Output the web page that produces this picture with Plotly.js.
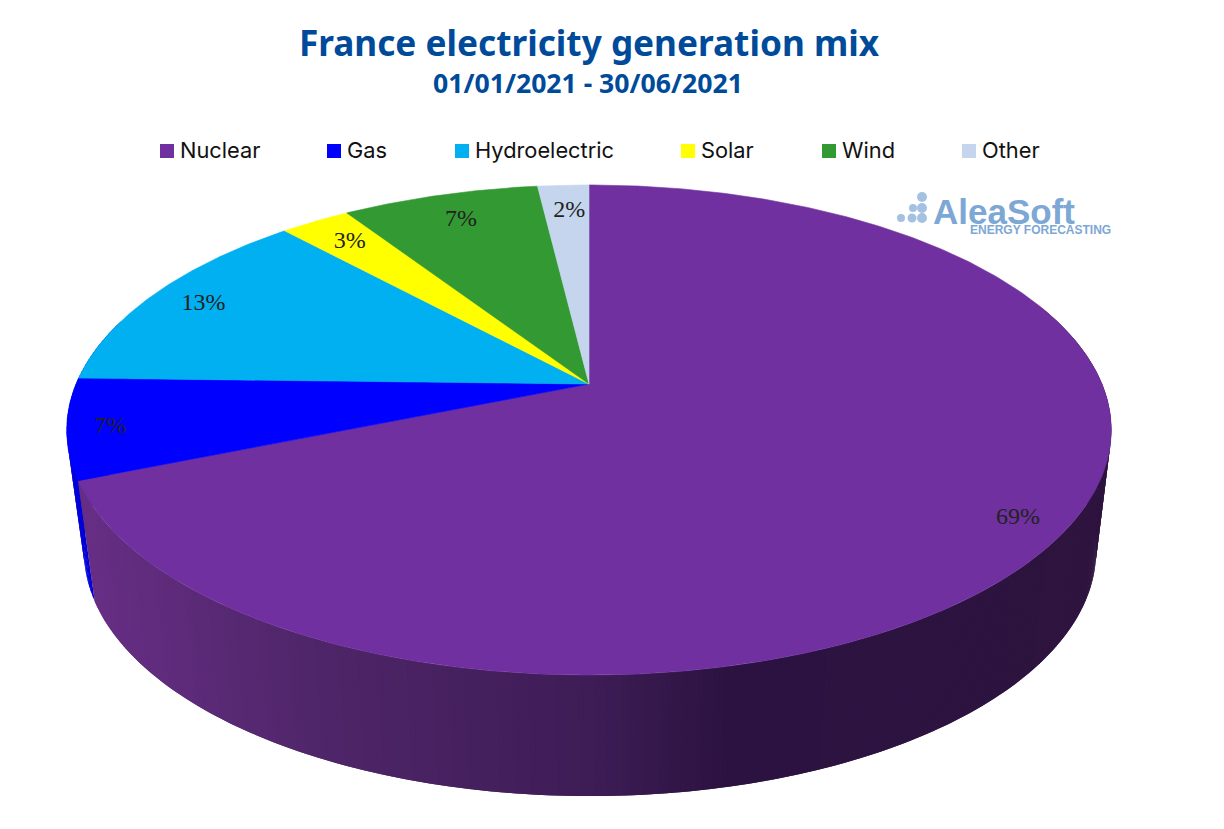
<!DOCTYPE html>
<html>
<head>
<meta charset="utf-8">
<script src="https://cdn.plot.ly/plotly-3.0.1.min.js"></script>
<style>html,body{margin:0;padding:0;background:#fff;overflow:hidden}#chart{width:1224px;height:829px}</style>
</head>
<body>
<div id="chart"></div>
<script>
// ---- data ----
const categories = ["Nuclear", "Gas", "Hydroelectric", "Solar", "Wind", "Other"];
const shares = [68.8, 6.6, 12.8, 2.6, 7.3, 1.9];
const shareLabels = ["69%", "7%", "13%", "3%", "7%", "2%"];
const colours = ["#7030A0", "#0000FF", "#00B0F0", "#FFFF00", "#339933", "#C5D5ED"];
const titleText = "France electricity generation mix";
const subtitleText = "01/01/2021 - 30/06/2021";
const logoName = "AleaSoft";
const logoTag = "ENERGY FORECASTING";

// ---- layout constants (pixel-scaled axes) ----
const W = 1224, H = 829;
const apex = {x: 589, y: 384}, A = 513, B = 236.4, K = -0.1878;
const legendX = [167, 334, 462, 688, 829, 969];
const labelR = [0.905, 0.925, 0.89, 0.87, 0.86, 0.86];
const labelShift = [3, 2];
const wallStops = [[90,[102,46,132]],[300,[80,38,106]],[600,[61,28,85]],[730,[43,18,64]],[1110,[46,20,63]]];

// perspective view of the disc: theta in degrees clockwise from 12 o'clock
function project(theta, r) {
  const t = theta * Math.PI / 180, u = r * Math.sin(t), v = -r * Math.cos(t), d = 1 + K * v;
  return [apex.x + A * u / d, apex.y + B * v / d];
}
function lower(p) { return [590 + (p[0] - 589) * 0.969, p[1] + 121]; }
function wallColour(x) {
  let i = 0;
  while (i < wallStops.length - 2 && x > wallStops[i + 1][0]) i++;
  const a = wallStops[i], b = wallStops[i + 1], f = Math.min(1, Math.max(0, (x - a[0]) / (b[0] - a[0])));
  const c = a[1].map((v, j) => Math.round(v + (b[1][j] - v) * f));
  return "rgb(" + c.join(",") + ")";
}
function poly(points, colour, name, lw) {
  return {type: "scatter", mode: "lines", x: points.map(p => p[0]), y: points.map(p => p[1]),
    fill: "toself", fillcolor: colour, line: {color: colour, width: lw}, hoverinfo: "skip", showlegend: false, name: name};
}

const total = shares.reduce((a, b) => a + b, 0);
let acc = 0;
const edges = shares.map(s => { const e = [acc, acc + s / total * 360]; acc = e[1]; return e; });

const traces = [];
// side wall: gas sliver first, then nuclear bands, each band lapping under the next
function wallBand(t0, t1, colour, name) {
  const a = project(t0, 1), b = project(t1, 1);
  traces.push(poly([a, b, lower(b), lower(a), a], colour, name, 0));
}
for (let t = edges[1][0]; t < 285; t += 1) wallBand(t, t + 1.5, "#0000D8", categories[1]);
for (let t = 70; t < edges[0][1]; t += 0.5) {
  const e = Math.min(t + 1, edges[0][1]);
  wallBand(t, e, wallColour(project(t + 0.25, 1)[0]), categories[0]);
}
// top face
edges.forEach((e, i) => {
  const pts = [[apex.x, apex.y]];
  for (let t = e[0]; t < e[1]; t += 0.5) pts.push(project(t, 1));
  pts.push(project(e[1], 1));
  pts.push([apex.x, apex.y]);
  traces.push(poly(pts, colours[i], categories[i], 0.6));
});
// share labels
const labelPts = edges.map((e, i) => project((e[0] + e[1]) / 2, labelR[i]));
traces.push({type: "scatter", mode: "text", x: labelPts.map(p => p[0] + labelShift[0]), y: labelPts.map(p => p[1] + labelShift[1]),
  text: shareLabels, textposition: "middle center",
  textfont: {family: "Liberation Serif", size: 24, color: "#222"}, hoverinfo: "skip", showlegend: false});
// legend row
traces.push({type: "scatter", mode: "markers", x: legendX, y: legendX.map(() => 151),
  marker: {symbol: "square", size: 14, color: colours, line: {width: 0}}, hoverinfo: "skip", showlegend: false});
traces.push({type: "scatter", mode: "text", x: legendX.map(x => x + 13), y: legendX.map(() => 153), text: categories,
  textposition: "middle right", textfont: {family: "Inter", size: 21.8, color: "#111"}, hoverinfo: "skip", showlegend: false});
// logo dots
const dots = [[922,197,10],[913,208,8],[922,208,10],[901,218,8],[912,218,9],[922,218,10]];
traces.push({type: "scatter", mode: "markers", x: dots.map(d => d[0]), y: dots.map(d => d[1]),
  marker: {size: dots.map(d => d[2]), color: "#7DA7D5", line: {width: 0}}, hoverinfo: "skip", showlegend: false});

const hidden = {visible: false, fixedrange: true};
const layout = {
  width: W, height: H, margin: {l: 0, r: 0, t: 0, b: 0}, paper_bgcolor: "#fff", plot_bgcolor: "#fff",
  showlegend: false,
  title: {text: "<b>" + titleText + "</b>", x: 589 / W, xanchor: "center", y: 1 - 44 / H, yanchor: "middle",
    font: {family: "Noto Sans", size: 35.2, color: "#004A9A"}},
  xaxis: Object.assign({range: [0, W]}, hidden),
  yaxis: Object.assign({range: [H, 0]}, hidden),
  annotations: [
    {text: "<b>" + subtitleText + "</b>", x: 588, y: 83, xref: "x", yref: "y", showarrow: false,
     font: {family: "Noto Sans", size: 26.6, color: "#004A9A"}},
    {text: "<b>" + logoName + "</b>", x: 1004, y: 211, xref: "x", yref: "y", showarrow: false,
     font: {family: "Liberation Sans", size: 35, color: "#7DA7D5"}},
    {text: "<b>" + logoTag + "</b>", x: 1040, y: 230, xref: "x", yref: "y", showarrow: false,
     font: {family: "Liberation Sans", size: 12, color: "#7DA7D5"}}
  ]
};
Plotly.newPlot("chart", traces, layout, {displayModeBar: false, staticPlot: true});
</script>
</body>
</html>
